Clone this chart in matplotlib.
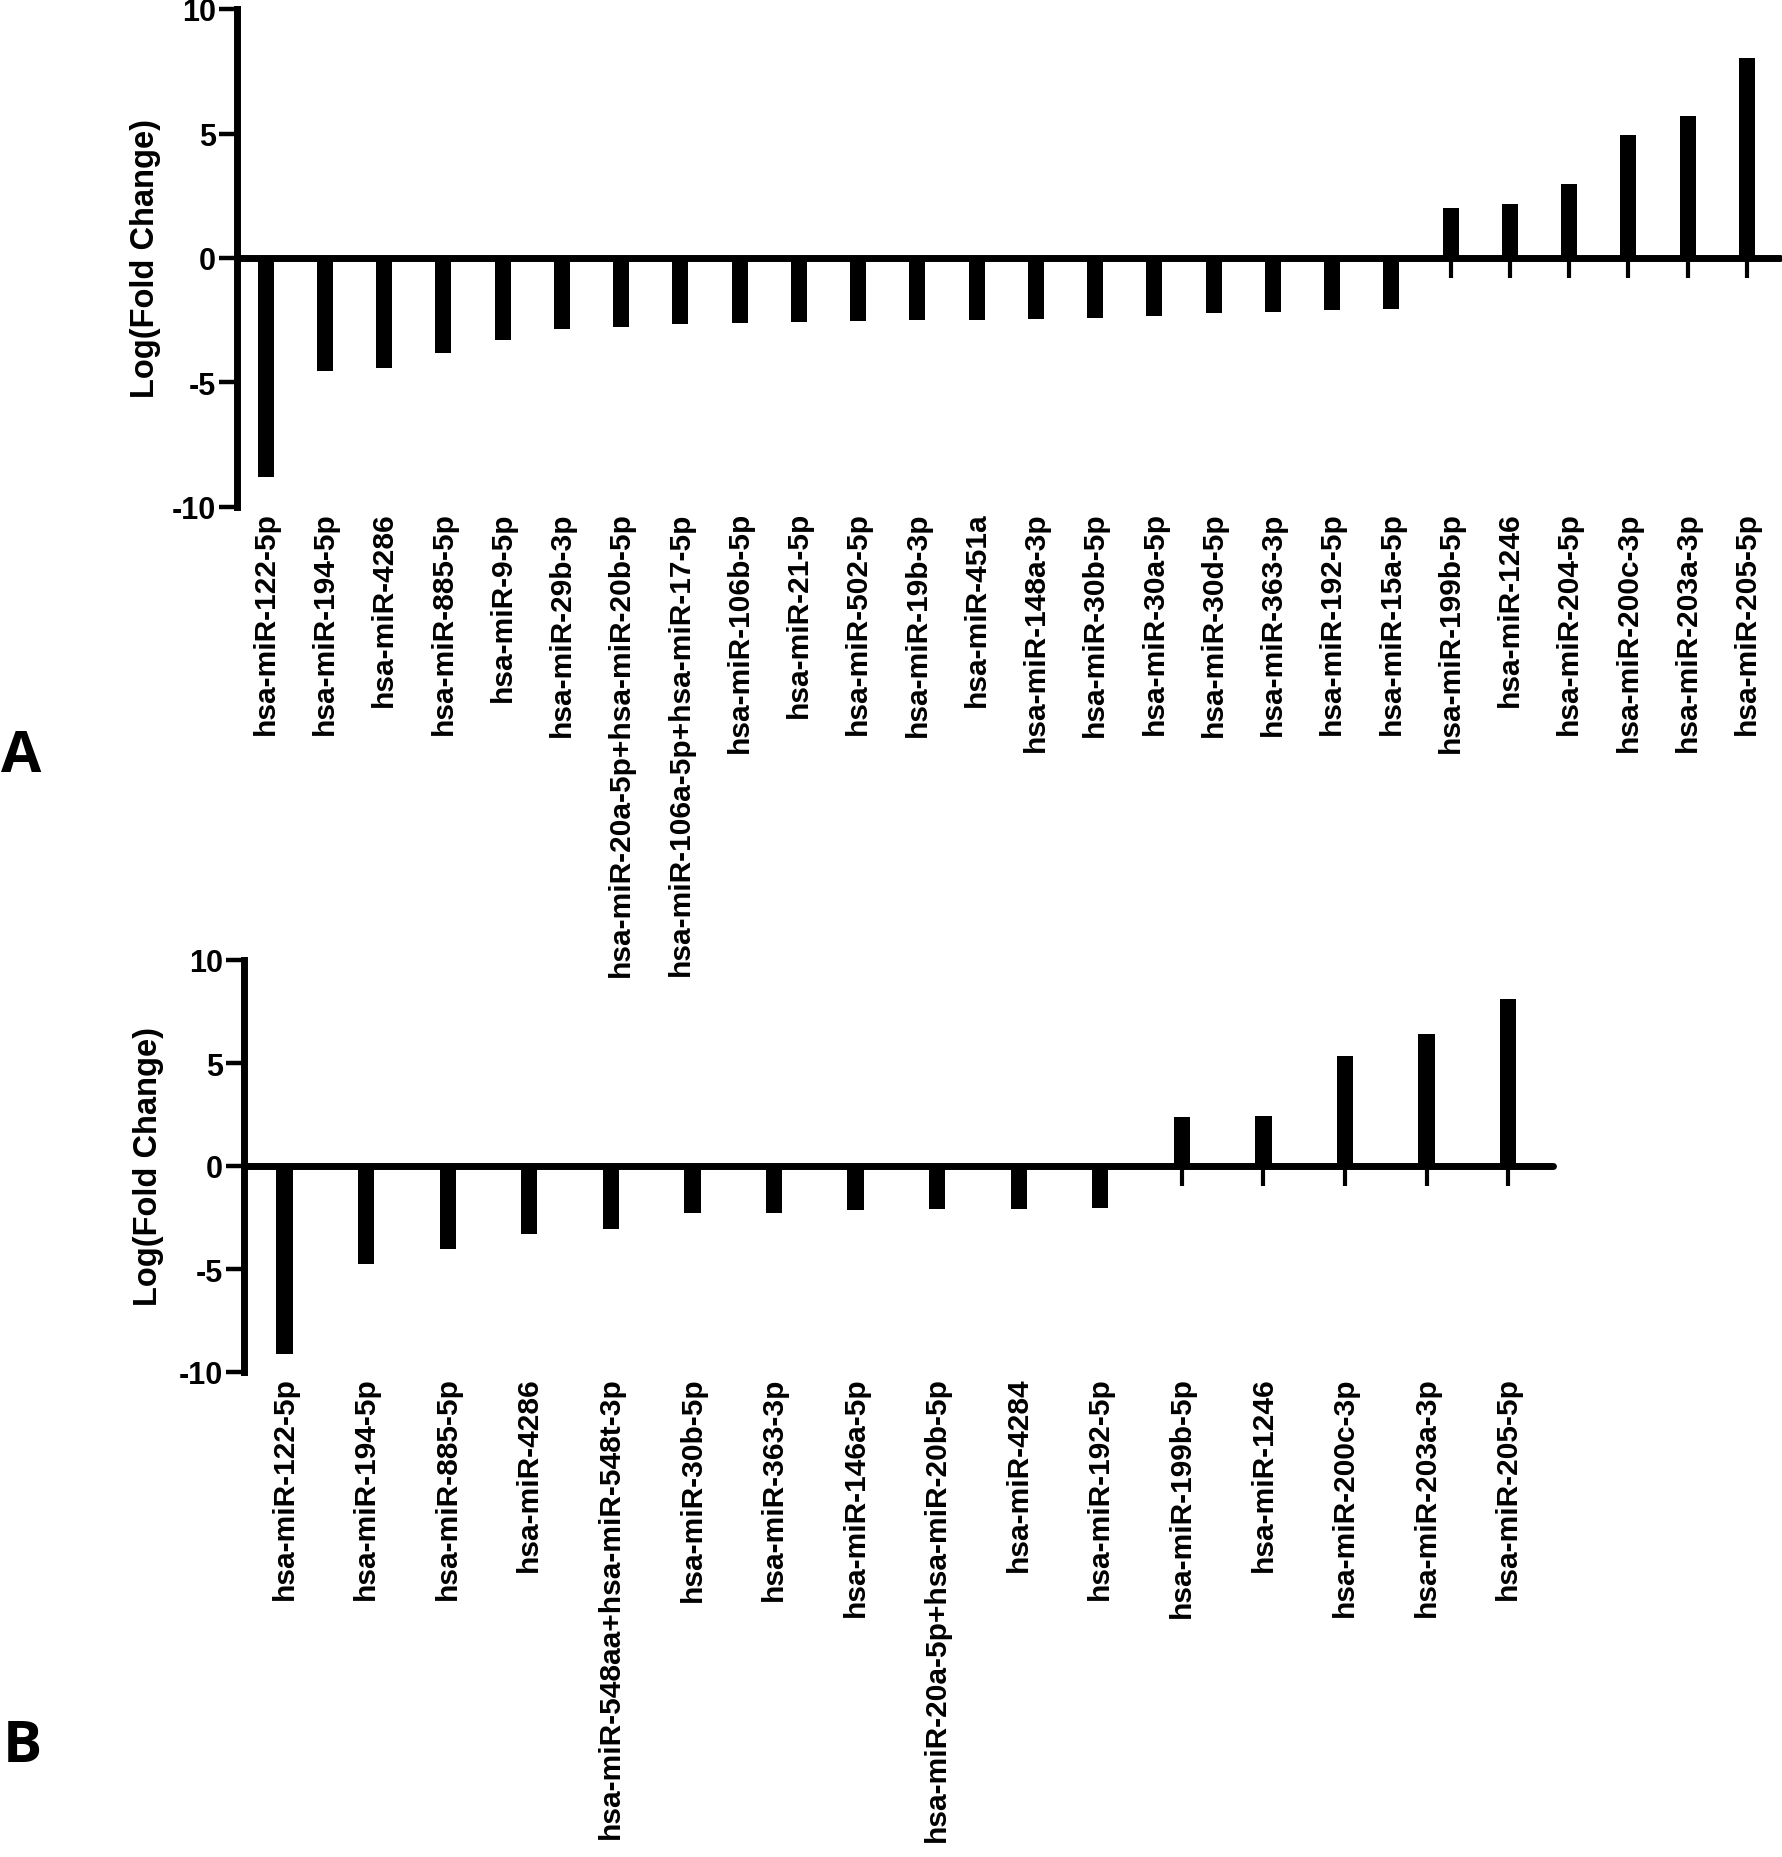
import matplotlib
matplotlib.use("Agg")
import matplotlib.pyplot as plt
import numpy as np

# ---------------- data ----------------
labels_a = [
    "hsa-miR-122-5p", "hsa-miR-194-5p", "hsa-miR-4286", "hsa-miR-885-5p",
    "hsa-miR-9-5p", "hsa-miR-29b-3p", "hsa-miR-20a-5p+hsa-miR-20b-5p",
    "hsa-miR-106a-5p+hsa-miR-17-5p", "hsa-miR-106b-5p", "hsa-miR-21-5p",
    "hsa-miR-502-5p", "hsa-miR-19b-3p", "hsa-miR-451a", "hsa-miR-148a-3p",
    "hsa-miR-30b-5p", "hsa-miR-30a-5p", "hsa-miR-30d-5p", "hsa-miR-363-3p",
    "hsa-miR-192-5p", "hsa-miR-15a-5p", "hsa-miR-199b-5p", "hsa-miR-1246",
    "hsa-miR-204-5p", "hsa-miR-200c-3p", "hsa-miR-203a-3p", "hsa-miR-205-5p",
]
values_a = [-8.80, -4.52, -4.42, -3.81, -3.31, -2.87, -2.76, -2.65, -2.63,
            -2.57, -2.53, -2.50, -2.48, -2.45, -2.41, -2.34, -2.22, -2.16,
            -2.07, -2.04, 2.01, 2.15, 2.99, 4.93, 5.69, 8.04]

labels_b = [
    "hsa-miR-122-5p", "hsa-miR-194-5p", "hsa-miR-885-5p", "hsa-miR-4286",
    "hsa-miR-548aa+hsa-miR-548t-3p", "hsa-miR-30b-5p", "hsa-miR-363-3p",
    "hsa-miR-146a-5p", "hsa-miR-20a-5p+hsa-miR-20b-5p", "hsa-miR-4284",
    "hsa-miR-192-5p", "hsa-miR-199b-5p", "hsa-miR-1246", "hsa-miR-200c-3p",
    "hsa-miR-203a-3p", "hsa-miR-205-5p",
]
values_b = [-9.14, -4.75, -4.02, -3.32, -3.07, -2.28, -2.26, -2.16, -2.10,
            -2.08, -2.03, 2.36, 2.44, 5.32, 6.39, 8.13]

y_ticks = [-10, -5, 0, 5, 10]
y_label = "Log(Fold Change)"

# ---------------- figure ----------------
W, H = 1783, 1858
DPI = 100
fig = plt.figure(figsize=(W / DPI, H / DPI), dpi=DPI)
FONT = "Liberation Sans"


def px_axes(left, right, top, bottom):
    return [left / W, 1 - bottom / H, (right - left) / W, (bottom - top) / H]


def panel(rect, labels, values, bar_width, xlim, label_x, z):
    ax = fig.add_axes(rect, zorder=z)
    ax.patch.set_visible(False)
    x = np.arange(len(labels))
    ax.bar(x, values, width=bar_width, color="black", zorder=1)
    ax.set_xlim(*xlim)
    ax.set_ylim(-10, 10)

    for s in ("top", "right"):
        ax.spines[s].set_visible(False)
    ax.spines["left"].set_linewidth(5)
    ax.spines["bottom"].set_linewidth(5)
    ax.spines["bottom"].set_position(("data", 0))
    ax.spines["bottom"].set_capstyle("round")

    ax.set_yticks(y_ticks)
    ax.set_yticklabels([str(t) for t in y_ticks], fontsize=22,
                       fontweight="bold", family=FONT)
    ax.tick_params(axis="y", direction="out", length=13, width=3.2, pad=2)

    ax.set_xticks(x)
    ax.tick_params(axis="x", direction="out", length=14.5, width=3,
                   labelbottom=False)

    ax.set_ylabel(y_label, fontsize=23.5, fontweight="bold", family=FONT,
                  va="center")
    ax.yaxis.set_label_coords(label_x, 0.5)

    sec = ax.secondary_xaxis("bottom")
    sec.set_xticks(x)
    sec.set_xticklabels(labels, rotation=90, fontsize=21.5,
                        fontweight="bold", family=FONT, va="top", ha="center")
    sec.tick_params(length=0, pad=3)
    sec.spines["bottom"].set_visible(False)
    return ax


# Panel A (drawn above B so its long labels are not hidden)
rect_a = px_axes(237, 1780, 10, 508)
panel(rect_a, labels_a, values_a, 0.27, (-0.483, 25.557),
      (146 - 237) / (1780 - 237), 2)

# Panel B
rect_b = px_axes(244, 1553, 961, 1373)
panel(rect_b, labels_b, values_b, 0.20, (-0.498, 15.55),
      (148 - 244) / (1553 - 244), 1)

# Panel letters
fig.text(1 / W, 1 - 772 / H, "A", fontsize=42, fontweight="bold",
         family="Open Sans", ha="left", va="baseline")
fig.text(3 / W, 1 - 1762 / H, "B", fontsize=42, fontweight="bold",
         family="Open Sans", ha="left", va="baseline")

fig.savefig("out.png", dpi=DPI, facecolor="white")
